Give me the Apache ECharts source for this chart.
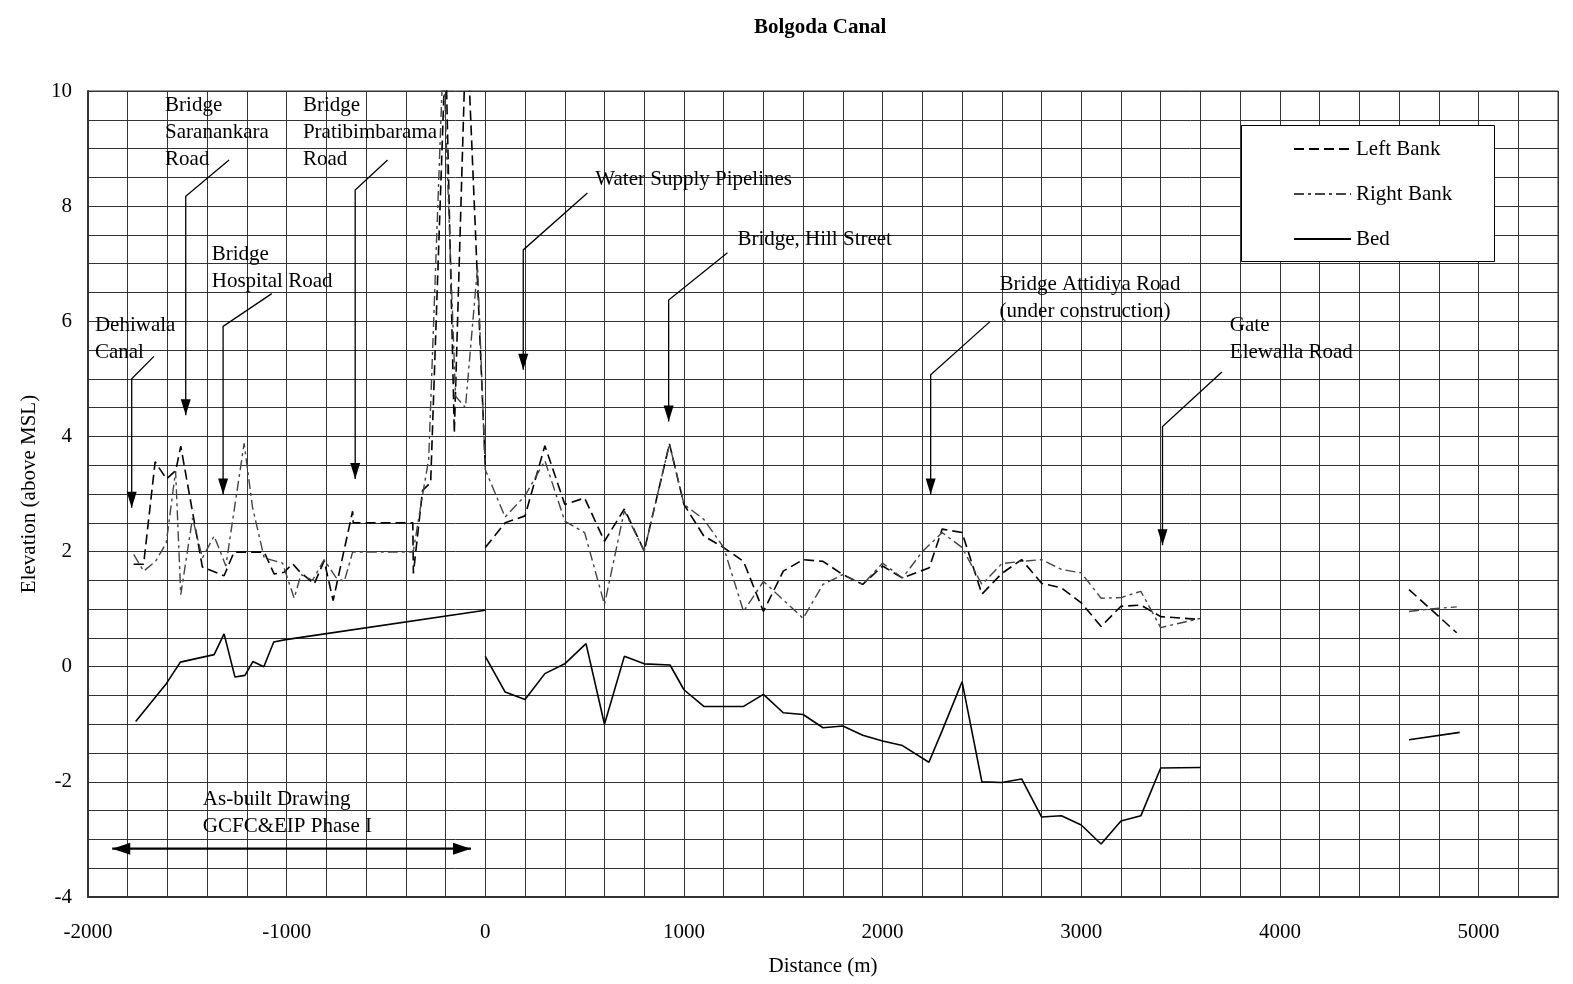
<!DOCTYPE html>
<html>
<head>
<meta charset="utf-8">
<script src="https://cdn.jsdelivr.net/npm/echarts@6/dist/echarts.min.js"></script>
<style>
html,body{margin:0;padding:0;background:#fff;}
#chart{width:1573px;height:984px;}
</style>
</head>
<body>
<div id="chart"></div>
<script>
// ---------------- DATA ----------------
const xTicks = [-2000, -1000, 0, 1000, 2000, 3000, 4000, 5000];
const yTicks = [-4, -2, 0, 2, 4, 6, 8, 10];

// Left bank (distance m, elevation m)
const leftBankUpstream = [
  [-1770,1.78],[-1720,1.78],[-1662,3.56],[-1605,3.26],[-1558,3.41],[-1533,3.83],[-1424,1.73],
  [-1315,1.58],[-1265,1.99],[-1113,1.99],[-1063,1.61],[-1013,1.64],[-970,1.79],[-937,1.66],
  [-861,1.44],[-811,1.84],[-766,1.15],[-668,2.70],[-665,2.50],[-365,2.50],[-362,1.62],
  [-316,3.06],[-275,3.20],[-200,10.8],[-156,4.06],[-95,11.3],[0,3.47]
];
const leftBankDownstream = [
  [0,2.07],[100,2.50],[200,2.62],[300,3.84],[400,2.82],[500,2.93],[600,2.18],[700,2.74],
  [800,2.01],[927,3.87],[1000,2.82],[1100,2.27],[1200,2.07],[1300,1.83],[1400,0.96],[1500,1.66],
  [1600,1.86],[1700,1.83],[1800,1.60],[1900,1.43],[2000,1.75],[2100,1.54],[2235,1.72],[2300,2.39],
  [2400,2.33],[2500,1.26],[2600,1.62],[2700,1.86],[2800,1.45],[2900,1.37],[3000,1.11],[3100,0.70],
  [3200,1.05],[3300,1.07],[3400,0.87],[3600,0.82]
];
const leftBankFar = [[4650,1.34],[4890,0.59]];

// Right bank
const rightBankMain = [
  [-1770,1.95],[-1720,1.66],[-1660,1.83],[-1606,2.15],[-1559,3.40],[-1533,1.25],[-1474,2.58],
  [-1424,1.89],[-1365,2.27],[-1306,1.75],[-1214,3.88],[-1172,2.77],[-1113,1.89],[-1021,1.80],
  [-962,1.19],[-928,1.60],[-870,1.50],[-811,1.86],[-752,1.55],[-710,1.48],[-668,1.99],[-363,1.99],
  [-320,2.90],[-285,3.60],[-212,10.6],[-150,4.70],[-100,4.50],[-39,6.95],[0,3.42],[100,2.60],
  [200,2.97],[300,3.58],[400,2.53],[500,2.33],[600,1.08],[700,2.71],[800,2.01],[927,3.87],
  [1000,2.82],[1100,2.56],[1200,2.07],[1300,0.96],[1400,1.48],[1600,0.84],[1700,1.43],[1800,1.60],
  [1900,1.43],[2000,1.80],[2100,1.54],[2200,2.00],[2300,2.33],[2400,2.07],[2500,1.43],[2600,1.79],
  [2700,1.83],[2800,1.86],[2900,1.69],[3000,1.63],[3100,1.19],[3200,1.20],[3300,1.31],[3400,0.68],
  [3500,0.76],[3600,0.84]
];
const rightBankFar = [[4650,0.96],[4750,1.00],[4890,1.04]];

// Bed
const bedUpstream = [
  [-1760,-0.95],[-1605,-0.29],[-1535,0.08],[-1365,0.21],[-1315,0.57],[-1260,-0.18],[-1210,-0.15],
  [-1170,0.09],[-1115,0.00],[-1065,0.43],[-1005,0.47],[0,0.98]
];
const bedDownstream = [
  [0,0.18],[100,-0.44],[200,-0.57],[300,-0.12],[400,0.05],[507,0.40],[600,-1.00],[700,0.18],
  [800,0.05],[930,0.03],[1000,-0.40],[1100,-0.69],[1300,-0.69],[1400,-0.48],[1500,-0.80],[1600,-0.83],
  [1700,-1.06],[1800,-1.03],[1900,-1.19],[2000,-1.29],[2100,-1.37],[2233,-1.66],[2300,-1.11],[2400,-0.26],
  [2500,-2.00],[2600,-2.01],[2700,-1.95],[2800,-2.61],[2900,-2.59],[3000,-2.75],[3100,-3.08],[3200,-2.68],
  [3300,-2.59],[3400,-1.76],[3600,-1.75]
];
const bedFar = [[4650,-1.27],[4905,-1.14]];

// Annotations (data coordinates): text block top-left, leader polyline ending with arrow tip
const annotations = [
  { text: ['Dehiwala', 'Canal'], at: [-1965, 6.17], leader: [[-1668,5.39],[-1780,5.00],[-1780,2.76]] },
  { text: ['Bridge', 'Saranankara', 'Road'], at: [-1612, 9.99], leader: [[-1290,8.80],[-1508,8.17],[-1508,4.37]] },
  { text: ['Bridge', 'Hospital Road'], at: [-1377, 7.39], leader: [[-1075,6.48],[-1320,5.91],[-1320,2.99]] },
  { text: ['Bridge', 'Pratibimbarama', 'Road'], at: [-918, 9.99], leader: [[-492,8.80],[-655,8.28],[-655,3.26]] },
  { text: ['Water Supply Pipelines'], at: [554, 8.70], leader: [[514,8.23],[191,7.24],[191,5.16]] },
  { text: ['Bridge, Hill Street'], at: [1269, 7.66], leader: [[1219,7.19],[923,6.37],[923,4.26]] },
  { text: ['Bridge Attidiya Road', '(under construction)'], at: [2589, 6.87], leader: [[2539,5.99],[2242,5.07],[2242,2.99]] },
  { text: ['Gate', 'Elewalla Road'], at: [3748, 6.17], leader: [[3708,5.12],[3409,4.17],[3409,2.11]] },
  { text: ['As-built Drawing', 'GCFC&EIP Phase I'], at: [-1422, -2.07], span: [[-1878,-3.16],[-72,-3.16]] }
];

// ---------------- CHART ----------------
const FONT = '"Liberation Serif", "Times New Roman", serif';
const GAP = [0, '-'];
const leftBank = [...leftBankUpstream, GAP, ...leftBankDownstream, GAP, ...leftBankFar];
const rightBank = [...rightBankMain, GAP, ...rightBankFar];
const bed = [...bedUpstream, GAP, ...bedDownstream, GAP, ...bedFar];

function arrowHead(tip, from, len, half) {
  const dx = tip[0] - from[0], dy = tip[1] - from[1];
  const l = Math.sqrt(dx*dx + dy*dy) || 1;
  const ux = dx / l, uy = dy / l;
  const nx = -uy, ny = ux;
  const bx = tip[0] - ux*len, by = tip[1] - uy*len;
  return {
    type: 'polygon',
    shape: { points: [tip, [bx + nx*half, by + ny*half], [bx - nx*half, by - ny*half]] },
    style: { fill: '#000', stroke: null }
  };
}

function renderAnnotation(params, api) {
  const a = annotations[params.dataIndex];
  const children = [];
  const tp = api.coord(a.at);
  children.push({
    type: 'text',
    style: {
      text: a.text.join('\n'), x: tp[0], y: tp[1],
      font: '21px ' + FONT, fill: '#000', lineHeight: 27,
      align: 'left', verticalAlign: 'top'
    }
  });
  if (a.leader) {
    const pts = a.leader.map(p => api.coord(p));
    children.push({ type: 'polyline', shape: { points: pts }, style: { stroke: '#000', lineWidth: 1.3, fill: null } });
    children.push(arrowHead(pts[pts.length-1], pts[pts.length-2], 16, 5));
  }
  if (a.span) {
    const p0 = api.coord(a.span[0]), p1 = api.coord(a.span[1]);
    children.push({ type: 'line', shape: { x1: p0[0], y1: p0[1], x2: p1[0], y2: p1[1] }, style: { stroke: '#000', lineWidth: 2.2 } });
    children.push(arrowHead(p0, p1, 18, 6));
    children.push(arrowHead(p1, p0, 18, 6));
  }
  return { type: 'group', children };
}

const chart = echarts.init(document.getElementById('chart'), null, { renderer: 'canvas' });
const gridLine = { color: '#333', width: 1 };
chart.setOption({
  animation: false,
  backgroundColor: '#fff',
  title: {
    text: 'Bolgoda Canal', left: 754, top: 17, padding: 0,
    textStyle: { fontFamily: FONT, fontSize: 21, fontWeight: 'bold', color: '#000' }
  },
  grid: { left: 88, right: 15, top: 91, bottom: 87, show: true, borderColor: '#333', borderWidth: 1 },
  legend: {
    data: ['Left Bank', 'Right Bank', 'Bed'],
    orient: 'vertical', left: 1293, top: 138, padding: 0,
    itemWidth: 57, itemHeight: 14, itemGap: 23,
    itemStyle: { opacity: 0, borderWidth: 0 },
    textStyle: { fontFamily: FONT, fontSize: 21, color: '#000', lineHeight: 22 },
    z: 6
  },
  graphic: [{
    type: 'rect', left: 1241, top: 125, z: 5,
    shape: { width: 253, height: 136 },
    style: { fill: '#fff', stroke: '#000', lineWidth: 1 }
  }],
  xAxis: {
    type: 'value', min: -2000, max: 5400, interval: 200,
    name: 'Distance (m)', nameLocation: 'middle', nameGap: 59,
    nameTextStyle: { fontFamily: FONT, fontSize: 21, color: '#000' },
    axisLine: { onZero: false, lineStyle: { color: '#333', width: 2 } },
    axisTick: { show: false },
    axisLabel: {
      fontFamily: FONT, fontSize: 21, color: '#000', margin: 25,
      formatter: v => xTicks.includes(v) ? String(v) : ''
    },
    splitLine: { show: true, lineStyle: gridLine }
  },
  yAxis: {
    type: 'value', min: -4, max: 10, interval: 0.5,
    name: 'Elevation (above MSL)', nameLocation: 'middle', nameGap: 48,
    nameTextStyle: { fontFamily: FONT, fontSize: 21, color: '#000' },
    axisLine: { onZero: false, lineStyle: { color: '#333', width: 2 } },
    axisTick: { show: false },
    axisLabel: {
      fontFamily: FONT, fontSize: 21, color: '#000', margin: 16,
      formatter: v => yTicks.includes(v) ? String(v) : ''
    },
    splitLine: { show: true, lineStyle: gridLine }
  },
  series: [
    {
      name: 'Left Bank', type: 'line', data: leftBank, symbol: 'none', connectNulls: false,
      lineStyle: { color: '#000', width: 1.6, type: [10, 5] }, itemStyle: { color: '#000' }, z: 3
    },
    {
      name: 'Right Bank', type: 'line', data: rightBank, symbol: 'none', connectNulls: false,
      lineStyle: { color: '#444', width: 1.4, type: [10, 4, 3, 4] }, itemStyle: { color: '#444' }, z: 3
    },
    {
      name: 'Bed', type: 'line', data: bed, symbol: 'none', connectNulls: false,
      lineStyle: { color: '#000', width: 1.6, type: 'solid' }, itemStyle: { color: '#000' }, z: 3
    },
    {
      name: 'annotations', type: 'custom', silent: true, clip: false, z: 4,
      data: annotations.map((a, i) => [a.at[0], a.at[1], i]),
      encode: { x: 0, y: 1 },
      renderItem: renderAnnotation
    }
  ]
});
</script>
</body>
</html>
